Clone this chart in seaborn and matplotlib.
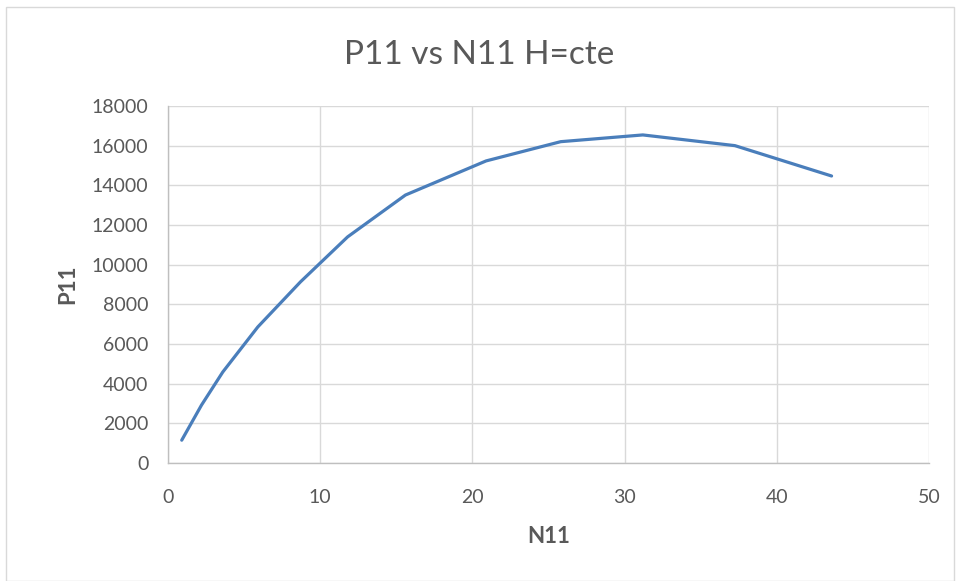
import matplotlib
matplotlib.use("Agg")
import matplotlib.pyplot as plt
import seaborn as sns
import pandas as pd

# values
n11 = [0.9, 2.2, 3.6, 5.9, 8.7, 11.8, 15.6, 20.9, 25.8, 31.2, 37.25, 43.6]
p11 = [1150, 2920, 4590, 6860, 9130, 11400, 13510, 15230, 16200, 16540, 16000, 14470]

x_ticks = [0, 10, 20, 30, 40, 50]
y_ticks = [0, 2000, 4000, 6000, 8000, 10000, 12000, 14000, 16000, 18000]

df = pd.DataFrame({"N11": n11, "P11": p11})

sns.set_theme(style="white")
plt.rcParams["font.family"] = ["Lato", "DejaVu Sans"]

fig = plt.figure(figsize=(9.58, 5.81), dpi=100)
ax = fig.add_axes([0.1754, 0.2031, 0.7943, 0.6145])

sns.lineplot(data=df, x="N11", y="P11", ax=ax, color="#4a7ebb",
             linewidth=2.3, sort=False, solid_capstyle="round")

ax.set_xlim(0, 50)
ax.set_ylim(0, 18000)
ax.set_xticks(x_ticks)
ax.set_yticks(y_ticks)
ax.grid(True, color="#d9d9d9", linewidth=1)
ax.tick_params(axis="both", labelsize=14, colors="#595959", length=0)
ax.tick_params(axis="y", pad=14)
ax.tick_params(axis="x", length=5, color="#bfbfbf", direction="out", pad=14)

for side in ["top", "right"]:
    ax.spines[side].set_visible(False)
for side in ["left", "bottom"]:
    ax.spines[side].set_color("#bfbfbf")
    ax.spines[side].set_linewidth(1)

ax.set_xlabel("N11", fontsize=16, fontweight="bold", color="#595959", labelpad=14)
ax.set_ylabel("P11", fontsize=16, fontweight="bold", color="#595959", labelpad=10)

fig.text(0.5, 0.905, "P11 vs N11 H=cte", ha="center", va="center",
         fontsize=24, color="#595959")

# chart area border
border = plt.Rectangle((0.006, 0.0), 0.99, 0.988, transform=fig.transFigure,
                       fill=False, edgecolor="#d9d9d9", linewidth=1)
fig.patches.append(border)

fig.savefig("out.png", dpi=100)
